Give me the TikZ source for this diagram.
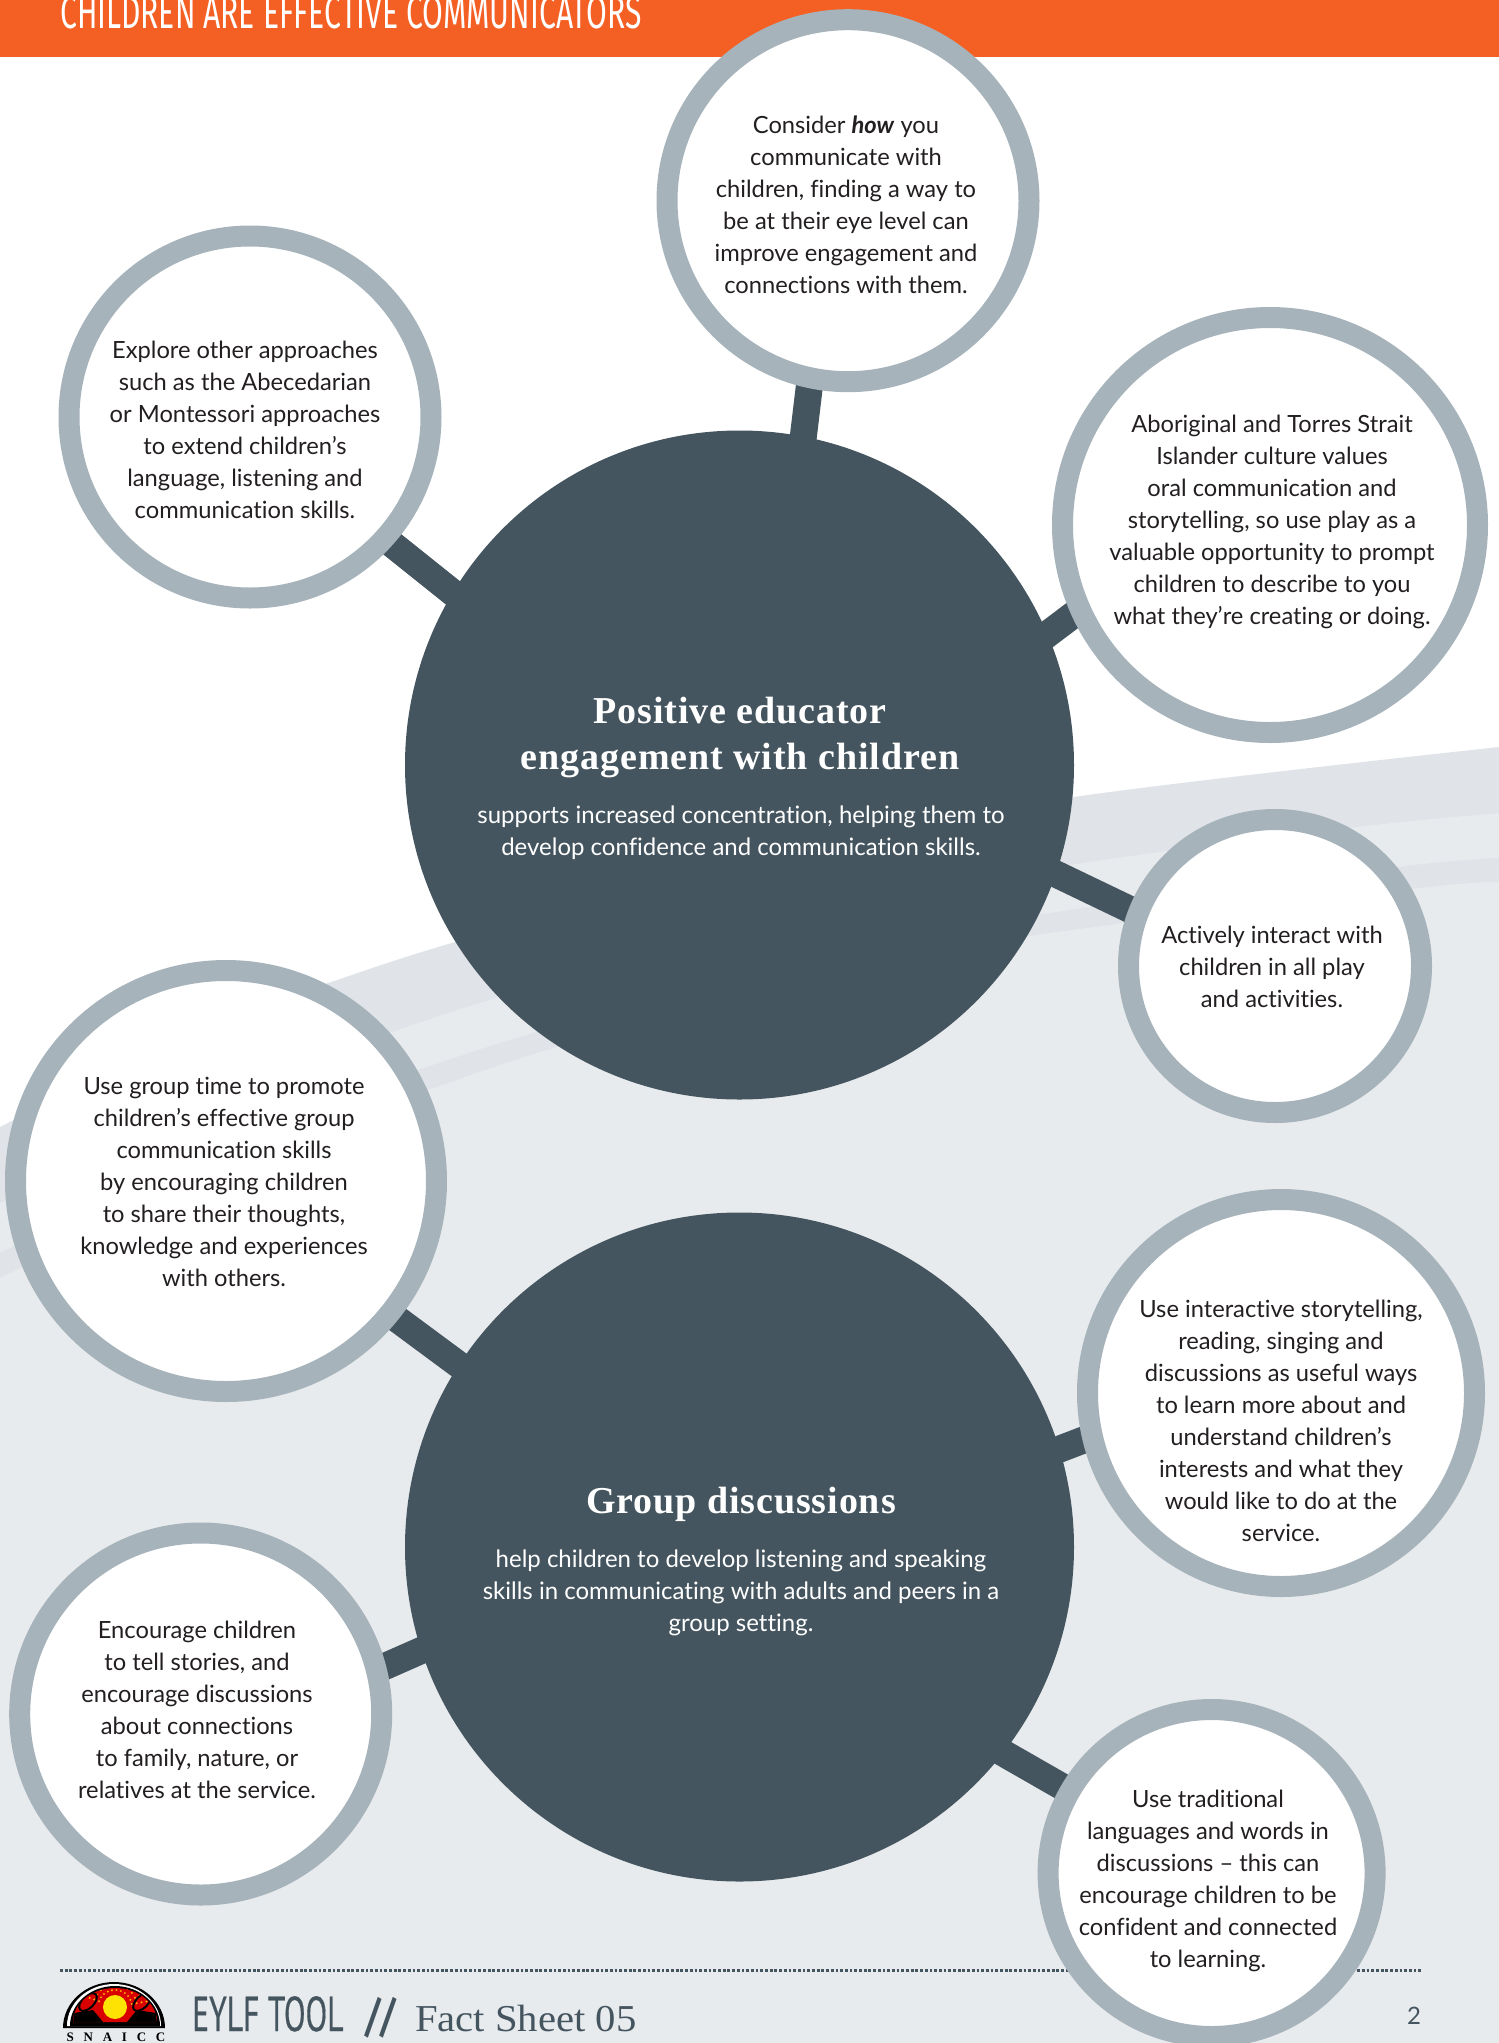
\documentclass[tikz,border=0pt]{standalone}
\usepackage{fontspec}
\usepackage{graphicx}
\setmainfont{Lato}[Ligatures=NoCommon]
\newfontfamily\headfont{Liberation Serif}
\newfontfamily\capfont{Fira Sans}
\newfontfamily\condfont{PT Sans}
\usetikzlibrary{backgrounds}
\definecolor{orangehead}{HTML}{F45F23}
\definecolor{ringc}{HTML}{A6B3BA}
\definecolor{darkc}{HTML}{45555F}
\definecolor{bandc}{HTML}{E0E3E7}
\definecolor{paleb}{HTML}{E8EBEE}
\definecolor{inkc}{HTML}{231F20}
\tikzset{
  sat/.style={circle,draw=ringc,fill=white,line width=21pt,inner sep=0pt,outer sep=0pt,minimum size=#1},
  bigc/.style={circle,fill=darkc,inner sep=0pt,outer sep=0pt,minimum size=669pt},
  body/.style={align=center,text=inkc,inner sep=0pt,font=\fontsize{23.7}{32}\selectfont},
  bodyw/.style={align=center,text=white,inner sep=0pt,font=\fontsize{24}{32}\selectfont},
  headw/.style={align=center,text=white,inner sep=0pt,font=\headfont\bfseries\fontsize{38}{46}\selectfont\addfontfeature{LetterSpace=2.4}},
  link/.style={draw=darkc,line width=27pt,shorten <=-10pt,shorten >=-10pt},
  swoosh/.style={smooth,tension=0.5}
}
\begin{document}
\begin{tikzpicture}[x=1pt,y=-1pt]
\useasboundingbox (0,0) rectangle (1499,2043);
% background
\begin{scope}[on background layer]
\fill[white] (0,0) rectangle (1499,2043);
\fill[bandc] plot[swoosh] coordinates {(0,1127) (150,1052) (250,1009) (328,983) (455,942) (760,857) (1074,797) (1499,747)} -- (1499,2043) -- (0,2043) -- cycle;
\fill[paleb] plot[swoosh] coordinates {(0,1203) (150,1130) (310,1058) (392,1032) (497,998) (780,920) (1070,865) (1357,827) (1499,813)} -- (1499,2043) -- (0,2043) -- cycle;
\fill[bandc] plot[swoosh] coordinates {(0,1253) (150,1180) (340,1096) (418,1070) (537,1032) (800,960) (1050,913) (1397,867) (1499,858)} -- (1499,2043) -- (0,2043) -- cycle;
\fill[paleb] plot[swoosh] coordinates {(0,1278) (150,1206) (350,1116) (428,1090) (547,1050) (800,978) (1050,933) (1420,888) (1499,882)} -- (1499,2043) -- (0,2043) -- cycle;
\fill[orangehead] (0,0) rectangle (1499,57);
\draw[darkc,line width=3pt,dash pattern=on 2.8pt off 1.9pt] (60,1970) -- (1421,1970);
\end{scope}
% title
\begin{scope}
\clip (0,0) rectangle (1499,57);
\node[anchor=base west,inner sep=0pt,text=white] (title) at (60,28) {\scalebox{0.654}[1]{\capfont\fontsize{46}{46}\selectfont CHILDREN ARE EFFECTIVE COMMUNICATORS}};
\end{scope}
% circles
\node[bigc] (big1) at (739.5,765) {};
\node[bigc] (big2) at (739.5,1547) {};
\node[sat=362pt] (c1) at (848,200.7) {};
\node[sat=362pt] (c2) at (250,417) {};
\node[sat=415pt] (c3) at (1270,525) {};
\node[sat=293pt] (c4) at (1275,966) {};
\node[sat=421pt] (c5) at (226,1181) {};
\node[sat=387pt] (c6) at (1281,1393) {};
\node[sat=362pt] (c7) at (200.7,1714) {};
\node[sat=327pt] (c8) at (1211.6,1873) {};
% connectors
\begin{scope}[on background layer]
\draw[link] (c1.-102.6) -- (big1.79.5);
\draw[link] (c2.-42.7) -- (big1.149.4);
\draw[link] (c3.204.3) -- (big1.23.2);
\draw[link] (c4.159.8) -- (big1.-19.4);
\draw[link] (c5.-39.3) -- (big2.147.4);
\draw[link] (c6.193) -- (big2.17.6);
\draw[link] (c7.14.9) -- (big2.198);
\draw[link] (c8.150) -- (big2.-38);
\end{scope}
% texts
\node[headw] (h1) at (740,737) {Positive educator\\engagement with children};
\node[bodyw] (b1) at (741,832.5) {supports increased concentration, helping them to\\develop confidence and communication skills.};
\node[headw] (h2) at (741,1504) {Group discussions};
\node[bodyw] (b2) at (741,1593) {help children to develop listening and speaking\\skills in communicating with adults and peers in a\\group setting.};
\node[body] (t1) at (846,204.6) {Consider \textbf{\textit{how}} you\\communicate with\\children, finding a way to\\be at their eye level can\\improve engagement and\\connections with them.};
\node[body] (t2) at (245,430) {Explore other approaches\\such as the Abecedarian\\or Montessori approaches\\to extend children’s\\language, listening and\\communication skills.};
\node[body] (t3) at (1272,522) {Aboriginal and Torres Strait\\Islander culture values\\oral communication and\\storytelling, so use play as a\\valuable opportunity to prompt\\children to describe to you\\what they’re creating or doing.};
\node[body] (t4) at (1272,966.5) {Actively interact with\\children in all play\\and activities.};
\node[body] (t5) at (224,1181.6) {Use group time to promote\\children’s effective group\\communication skills\\by encouraging children\\to share their thoughts,\\knowledge and experiences\\with others.};
\node[body] (t6) at (1281,1421) {Use interactive storytelling,\\reading, singing and\\discussions as useful ways\\to learn more about and\\understand children’s\\interests and what they\\would like to do at the\\service.};
\node[body] (t7) at (197,1710) {Encourage children\\to tell stories, and\\encourage discussions\\about connections\\to family, nature, or\\relatives at the service.};
\node[body] (t8) at (1208,1881) {Use traditional\\languages and words in\\discussions – this can\\encourage children to be\\confident and connected\\to learning.};
% footer
\node[anchor=base west,inner sep=0pt,text=darkc] (eylf) at (192,2031) {\scalebox{0.645}[1]{\condfont\fontsize{49}{49}\selectfont\addfontfeature{FakeBold=0.5}EYLF TOOL}};
\node[anchor=base west,inner sep=0pt,text=darkc] (slash) at (365,2031) {\scalebox{0.8}[1]{\condfont\bfseries\fontsize{48}{48}\selectfont //}};
\node[anchor=base west,inner sep=0pt,text=darkc] (fact) at (415,2031) {\scalebox{1.07}[1]{\headfont\fontsize{38}{38}\selectfont Fact Sheet 05}};
\node[anchor=base,inner sep=0pt,text=darkc,font=\fontsize{24}{24}\selectfont] (page) at (1414,2024) {2};
% logo
\fill[black] (63,2028) arc[start angle=180,end angle=360,x radius=51,y radius=46] -- cycle;
\fill[white] (67,2026) arc[start angle=180,end angle=360,x radius=47,y radius=42] -- cycle;
\fill[black] (70,2026) arc[start angle=180,end angle=360,x radius=45,y radius=40] -- cycle;
\begin{scope}
\clip (73,2022) arc[start angle=180,end angle=360,x radius=42,y radius=34] -- cycle;
\fill[red!85!black] (60,1980) rectangle (170,2030);
\foreach \a in {10,25,...,170}{\foreach \r in {17,22,27,32}{
  \fill[orange!60!yellow] ({115+\r*cos(\a)},{2007-\r*sin(\a)}) circle[radius=1.1pt];}}
\foreach \sx in {1,-1}{
\begin{scope}[shift={(115,0)},x={(\sx*1pt,0pt)}]
\draw[black,line width=2pt,rotate around={45:(-27,2002)}] (-27,2002) ellipse[x radius=11,y radius=6];
\fill[black] (-41,2013) -- (-22,2010) -- (-12,2022) -- (-42,2024) -- cycle;
\end{scope}}
\end{scope}
\fill[yellow!85!orange] (115,2007) circle[radius=12pt];
\node[anchor=base,inner sep=0pt,font=\headfont\bfseries\fontsize{13}{13}\selectfont] (snaicc) at (116,2041) {\addfontfeature{LetterSpace=75}SNAICC};
\end{tikzpicture}
\end{document}
